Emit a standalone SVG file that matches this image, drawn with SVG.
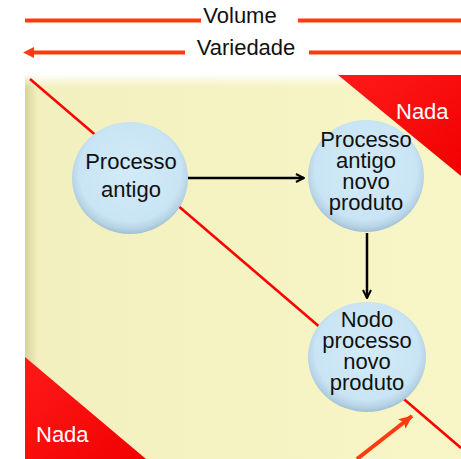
<svg xmlns="http://www.w3.org/2000/svg" width="461" height="459" viewBox="0 0 461 459">
<defs>
<linearGradient id="panelL" x1="0" y1="0" x2="1" y2="0">
<stop offset="0" stop-color="#d8d49c"/>
<stop offset="0.03" stop-color="#f3f0bf"/>
<stop offset="1" stop-color="#f8f6c6"/>
</linearGradient>
<linearGradient id="panelT" x1="0" y1="0" x2="0" y2="1">
<stop offset="0" stop-color="#ffffff" stop-opacity="0.9"/>
<stop offset="1" stop-color="#ffffff" stop-opacity="0"/>
</linearGradient>
<radialGradient id="ball" cx="0.5" cy="0.45" r="0.55">
<stop offset="0" stop-color="#d2ebf8"/>
<stop offset="0.8" stop-color="#c9e4f4"/>
<stop offset="0.93" stop-color="#b5d2e4"/>
<stop offset="1" stop-color="#9fbfd3"/>
</radialGradient>
<linearGradient id="tri" x1="0" y1="0" x2="1" y2="1">
<stop offset="0" stop-color="#ff1a1a"/>
<stop offset="1" stop-color="#f20000"/>
</linearGradient>
<marker id="ahB" markerWidth="10" markerHeight="10" refX="9" refY="5" orient="auto" markerUnits="userSpaceOnUse">
<path d="M1,1 L9,5 L1,9" fill="none" stroke="#000" stroke-width="2"/>
</marker>
<marker id="ahO" markerWidth="14" markerHeight="12" refX="13" refY="6" orient="auto" markerUnits="userSpaceOnUse">
<path d="M0,0 L14,6 L0,12 L3,6 Z" fill="#ff3a0f"/>
</marker>
<style>
.lbl{font-family:"Liberation Sans",Arial,sans-serif;font-size:22px;fill:#111;text-anchor:middle}
.nada{font-family:"Liberation Sans",Arial,sans-serif;font-size:22px;fill:#fff}
.ol{stroke:#ff3a0f;stroke-width:4;fill:none}
</style>
</defs>
<rect width="461" height="459" fill="#fff"/>
<g id="axes">
<line class="ol" x1="25" y1="20.5" x2="201" y2="20.5"/>
<line class="ol" x1="298" y1="20.5" x2="461" y2="20.5"/>
<text class="lbl" x="240" y="23">Volume</text>
<line class="ol" x1="185" y1="52.5" x2="32" y2="52.5"/>
<path d="M23,52.5 L34,47 L34,58 Z" fill="#ff3a0f"/>
<line class="ol" x1="309" y1="52.5" x2="461" y2="52.5"/>
<text class="lbl" x="246" y="55">Variedade</text>
</g>
<g id="panel">
<rect x="25" y="75" width="436" height="384" fill="url(#panelL)"/>
<rect x="25" y="75" width="436" height="12" fill="url(#panelT)"/>
</g>
<g id="nada-top">
<polygon points="338,75 461,75 461,176" fill="url(#tri)"/>
<text class="nada" x="396" y="119">Nada</text>
</g>
<g id="nada-bottom">
<polygon points="25,357 25,459 146,459" fill="url(#tri)"/>
<text class="nada" x="36" y="442">Nada</text>
</g>
<g id="connectors">
<line x1="30" y1="79" x2="461" y2="448" stroke="#ff0000" stroke-width="2.5"/>
<line x1="357" y1="459" x2="412" y2="416" stroke="#ff3a0f" stroke-width="4" marker-end="url(#ahO)"/>
<line x1="188" y1="178" x2="304" y2="178" stroke="#000" stroke-width="2.5" marker-end="url(#ahB)"/>
<line x1="367" y1="233" x2="367" y2="298" stroke="#000" stroke-width="2.5" marker-end="url(#ahB)"/>
</g>
<g id="processo-antigo">
<ellipse cx="130" cy="178" rx="58" ry="56" fill="url(#ball)"/>
<text class="lbl" x="131" y="169">Processo</text>
<text class="lbl" x="131" y="197">antigo</text>
</g>
<g id="processo-antigo-novo-produto">
<ellipse cx="366" cy="176" rx="58" ry="56" fill="url(#ball)"/>
<text class="lbl" x="366" y="147">Processo</text>
<text class="lbl" x="366" y="168">antigo</text>
<text class="lbl" x="366" y="189">novo</text>
<text class="lbl" x="366" y="210">produto</text>
</g>
<g id="nodo-processo-novo-produto">
<ellipse cx="367" cy="357" rx="59" ry="55" fill="url(#ball)"/>
<text class="lbl" x="367" y="327">Nodo</text>
<text class="lbl" x="367" y="348">processo</text>
<text class="lbl" x="367" y="369">novo</text>
<text class="lbl" x="367" y="390">produto</text>
</g>
</svg>
